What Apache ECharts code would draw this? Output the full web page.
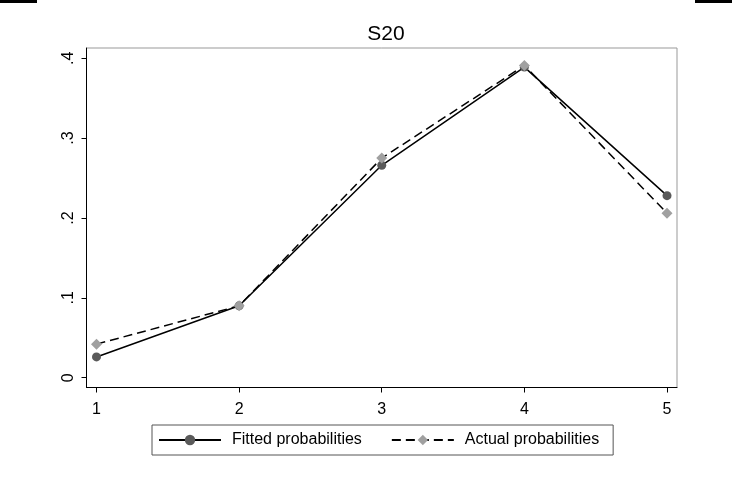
<!DOCTYPE html>
<html>
<head>
<meta charset="utf-8">
<script src="https://cdn.jsdelivr.net/npm/echarts@6/dist/echarts.min.js"></script>
<style>
  html, body { margin: 0; padding: 0; background: #fff; }
  #chart { width: 732px; height: 479px; }
</style>
</head>
<body>
<div id="chart"></div>
<script>
// categories on the x axis and the two probability series
var outcomes = [1, 2, 3, 4, 5];
var fitted = [0.026, 0.09, 0.266, 0.389, 0.228];
var actual = [0.042, 0.09, 0.275, 0.391, 0.206];
var yTicks = [0, 0.1, 0.2, 0.3, 0.4];

var font = 'Arial, "Liberation Sans", sans-serif';

function pairs(xs, ys) {
  return xs.map(function (x, i) { return [x, ys[i]]; });
}

var chart = echarts.init(document.getElementById('chart'));

var option = {
  animation: false,
  backgroundColor: '#fff',
  title: {
    text: 'S20',
    left: 381,
    textAlign: 'center',
    top: 19,
    textStyle: { fontFamily: font, fontSize: 21, fontWeight: 'normal', color: '#000' }
  },
  grid: { left: 86.5, right: 55, top: 48, bottom: 91.5, show: true, borderColor: '#999', borderWidth: 1 },
  xAxis: {
    type: 'value',
    min: 0.93,
    max: 5.07,
    axisLine: { show: true, onZero: false, lineStyle: { color: '#000', width: 1 } },
    axisTick: { show: true, length: 5, customValues: outcomes, lineStyle: { color: '#000' } },
    axisLabel: { customValues: outcomes, margin: 14, fontFamily: font, fontSize: 16, color: '#000' },
    splitLine: { show: false }
  },
  yAxis: {
    type: 'value',
    min: -0.0123,
    max: 0.4129,
    axisLine: { show: true, onZero: false, lineStyle: { color: '#000', width: 1 } },
    axisTick: { show: true, length: 5, customValues: yTicks, lineStyle: { color: '#000' } },
    axisLabel: {
      customValues: yTicks, rotate: 90, margin: 10, fontFamily: font, fontSize: 16, color: '#000',
      formatter: function (v) { return v === 0 ? '0' : String(Math.round(v * 10) / 10).replace(/^0/, ''); }
    },
    splitLine: { show: false }
  },
  legend: {
    left: 152,
    top: 425,
    padding: [7, 14, 7, 6],
    borderColor: '#555',
    borderWidth: 1,
    itemGap: 29,
    itemWidth: 62,
    itemHeight: 13,
    textStyle: { fontFamily: font, fontSize: 16, color: '#000', padding: [0, 0, 0, 6] },
    data: ['Fitted probabilities', 'Actual probabilities']
  },
  graphic: [
    { type: 'rect', shape: { x: 0, y: 0, width: 37, height: 3 }, style: { fill: '#000' } },
    { type: 'rect', shape: { x: 695, y: 0, width: 37, height: 3 }, style: { fill: '#000' } }
  ],
  series: [
    {
      name: 'Fitted probabilities',
      type: 'line',
      data: pairs(outcomes, fitted),
      symbol: 'circle',
      symbolSize: 9,
      itemStyle: { color: '#5a5a5a' },
      lineStyle: { color: '#000', width: 1.5, type: 'solid' }
    },
    {
      name: 'Actual probabilities',
      type: 'line',
      data: pairs(outcomes, actual),
      symbol: 'diamond',
      symbolSize: 11,
      itemStyle: { color: '#a0a0a0' },
      lineStyle: { color: '#000', width: 1.5, type: [9, 5] }
    }
  ]
};

chart.setOption(option);
</script>
</body>
</html>
